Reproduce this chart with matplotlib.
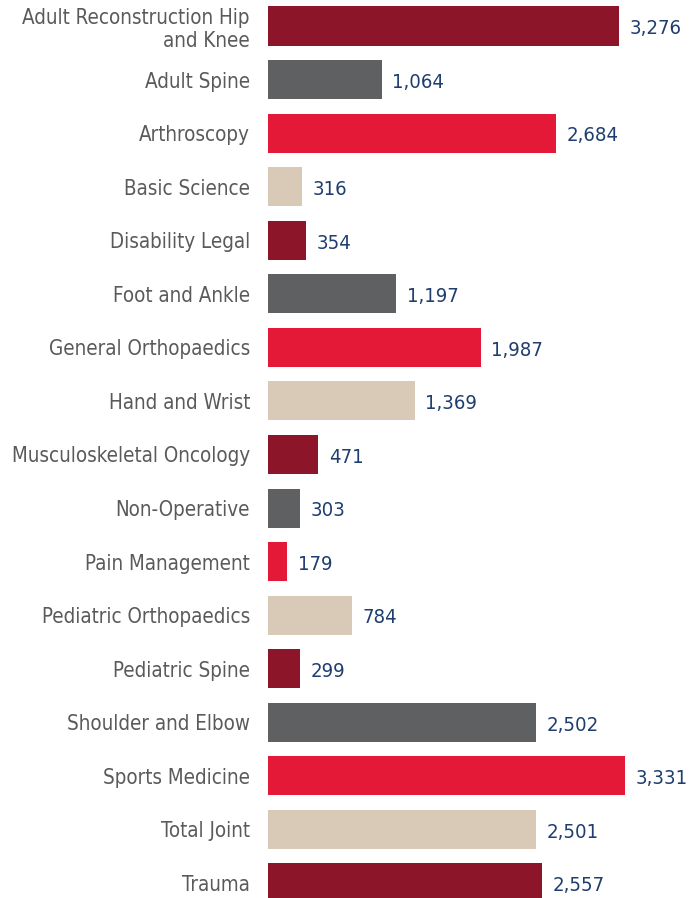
import matplotlib
matplotlib.use("Agg")
import matplotlib.pyplot as plt

categories = ["Adult Reconstruction Hip\nand Knee", "Adult Spine", "Arthroscopy", "Basic Science",
              "Disability Legal", "Foot and Ankle", "General Orthopaedics", "Hand and Wrist",
              "Musculoskeletal Oncology", "Non-Operative", "Pain Management",
              "Pediatric Orthopaedics", "Pediatric Spine", "Shoulder and Elbow",
              "Sports Medicine", "Total Joint", "Trauma"]
values = [3276, 1064, 2684, 316, 354, 1197, 1987, 1369, 471, 303, 179, 784, 299, 2502, 3331, 2501, 2557]
palette = ["#8C1529", "#5F6062", "#E31937", "#D8CAB7"]

plt.rcParams['font.family'] = ['DejaVu Sans']

W, H = 691, 898
fig = plt.figure(figsize=(W/100, H/100), dpi=100)
ax = fig.add_axes([268/W, 0, 1 - 268/W, 1])

n = len(values)
ys = list(range(n))
colors = [palette[i % 4] for i in range(n)]
ax.barh(ys, values, height=0.73, color=colors)

scale = 0.1072  # px per unit
ax.set_xlim(0, (W - 268) / scale)
step = (883 - 26) / 16
ax.set_ylim(16 + (H - 883) / step, -26 / step)

for y, v in zip(ys, values):
    ax.annotate(f"{v:,}", (v, y), xytext=(7.5, -2), textcoords="offset points",
                va="center", ha="left", fontsize=14.6, color="#1F3D6E",
                fontstretch="condensed")

ax.set_yticks(ys)
ax.set_yticklabels(categories, fontsize=14.8, color="#5A5A5A", linespacing=1.18, ha="right",
                   fontstretch="condensed")
ax.tick_params(axis="y", length=0, pad=13)
ax.set_xticks([])
for s in ax.spines.values():
    s.set_visible(False)

fig.savefig("out.png", dpi=100)
